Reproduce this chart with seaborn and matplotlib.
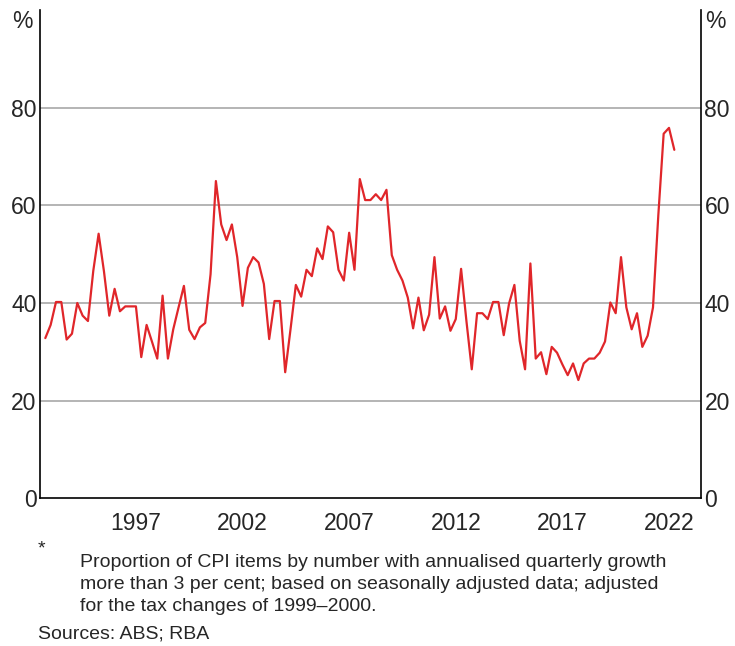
import pandas as pd
import numpy as np
import seaborn as sns
import matplotlib.pyplot as plt

# quarterly, 1993 Q1 to 2022 Q3
quarters = pd.period_range('1993Q1', '2022Q3', freq='Q')
share_above_3 = [
    32.8, 35.5, 40.2, 40.2, 32.5, 33.7, 40.0, 37.4, 36.3, 46.6, 54.2, 46.5,
    37.4, 42.9, 38.3, 39.3, 39.3, 39.3, 28.9, 35.5, 32.1, 28.6, 41.5, 28.6,
    34.6, 39.1, 43.5, 34.5, 32.6, 35.0, 35.9, 45.9, 65.0, 56.1, 52.9, 56.1,
    49.4, 39.4, 47.2, 49.4, 48.3, 43.9, 32.6, 40.4, 40.4, 25.8, 34.6, 43.7,
    41.3, 46.8, 45.5, 51.2, 49.0, 55.7, 54.5, 46.8, 44.6, 54.4, 46.8, 65.4,
    61.1, 61.1, 62.3, 61.1, 63.2, 49.8, 46.8, 44.6, 41.1, 34.8, 41.1, 34.4,
    37.6, 49.4, 36.8, 39.3, 34.3, 36.7, 47.0, 36.3, 26.4, 37.9, 37.9, 36.7,
    40.2, 40.2, 33.4, 39.9, 43.7, 32.2, 26.4, 48.1, 28.6, 29.9, 25.4, 31.0,
    29.8, 27.4, 25.2, 27.6, 24.2, 27.6, 28.6, 28.6, 29.8, 32.1, 40.1, 37.9,
    49.4, 39.1, 34.6, 37.9, 31.0, 33.3, 39.1, 58.0, 74.7, 75.9, 71.4,
]
year_labels = ['1997', '2002', '2007', '2012', '2017', '2022']
y_ticks = [0, 20, 40, 60, 80]

# plot each quarter at the end of the quarter
df = pd.DataFrame({
    'date': [q.year + q.quarter / 4 for q in quarters],
    'share': share_above_3,
})

sns.set_theme(style='white')
plt.rcParams['font.family'] = ['Liberation Sans', 'DejaVu Sans']

fig = plt.figure(figsize=(7.35, 6.46), dpi=100)
ax = fig.add_axes([0.0544, 0.229, 0.8993, 0.755])

for y in y_ticks[1:]:
    ax.axhline(y, color='#b4b4b4', linewidth=1.4, zorder=0)

sns.lineplot(data=df, x='date', y='share', color='#e0262a', linewidth=1.6, ax=ax)

ax.set_xlim(1993, 2024)
ax.set_ylim(0, 100)
ax.set_xlabel('')
ax.set_ylabel('')

# year ticks on the boundaries, labels in the middle of the year
ax.set_xticks(np.arange(1994, 2024))
ax.set_xticklabels([])
ax.set_xticks([int(y) + 0.5 for y in year_labels], minor=True)
ax.set_xticklabels(year_labels, minor=True)
ax.tick_params(axis='x', which='major', direction='in', length=6, width=1, color='black')
ax.tick_params(axis='x', which='minor', length=0, pad=10, labelsize=16.5)

ax.set_yticks(y_ticks)
ax.set_yticklabels([str(v) for v in y_ticks])
ax.tick_params(axis='y', length=0, pad=2.5, labelsize=16.5, labelright=True, right=False)

for side in ['left', 'right', 'bottom']:
    ax.spines[side].set_color('black')
    ax.spines[side].set_linewidth(1.2)
ax.spines['top'].set_visible(False)

ax.text(-0.011, 0.978, '%', transform=ax.transAxes, ha='right', va='center', fontsize=16.5)
ax.text(1.006, 0.978, '%', transform=ax.transAxes, ha='left', va='center', fontsize=16.5)

fig.text(38 / 735, 1 - 549 / 646, '*', ha='left', va='center', fontsize=14)
fig.text(80 / 735, 1 - 554 / 646,
         'Proportion of CPI items by number with annualised quarterly growth\n'
         'more than 3 per cent; based on seasonally adjusted data; adjusted\n'
         'for the tax changes of 1999\u20132000.',
         ha='left', va='top', fontsize=14, linespacing=1.4)
fig.text(38 / 735, 1 - 634 / 646, 'Sources: ABS; RBA', ha='left', va='center', fontsize=14)

plt.savefig('out.png', dpi=100)
